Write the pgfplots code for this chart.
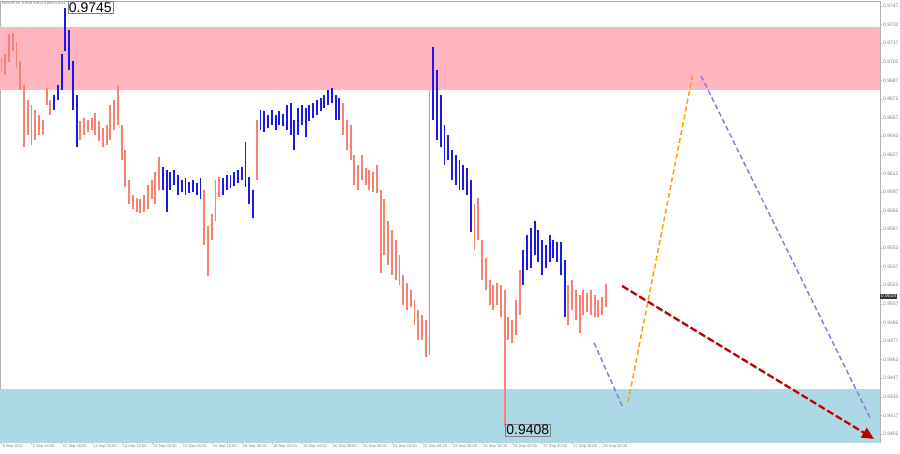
\documentclass[border=0pt]{standalone}
\usepackage{pgfplots}
\pgfplotsset{compat=1.18}
\usepackage{pgfplotstable}
\usepackage{fontspec}
\setmainfont{Liberation Sans}
\usetikzlibrary{arrows.meta}
\definecolor{salm}{RGB}{250,128,114}
\definecolor{bbar}{RGB}{25,25,235}
\definecolor{zpink}{RGB}{255,182,193}
\definecolor{zblue}{RGB}{173,216,230}
\definecolor{fpurp}{RGB}{147,112,219}
\definecolor{forange}{RGB}{255,160,0}
\definecolor{fred}{RGB}{190,0,0}

% EURCHF H1 — bars (x = hour index, lo, hi)
\pgfplotstableread{
x lo hi
0 0.9694 0.9705
2 0.9691 0.9708
4 0.9702 0.9724
6 0.9711 0.9725
8 0.9697 0.9718
10 0.9679 0.9703
12 0.9633 0.9683
14 0.9643 0.9671
16 0.9635 0.9667
18 0.9639 0.9663
20 0.9643 0.9659
22 0.9643 0.9655
24 0.9667 0.9681
26 0.9659 0.9671
}\salA
\pgfplotstableread{
x lo hi
28 0.9663 0.9675
30 0.9671 0.9683
32 0.9679 0.9708
34 0.9711 0.9745
36 0.9695 0.9728
38 0.9663 0.9703
40 0.9633 0.9675
}\bluA
\pgfplotstableread{
x lo hi
42 0.9639 0.9654
44 0.9643 0.9657
46 0.9645 0.9655
48 0.9647 0.9657
50 0.9643 0.9661
52 0.9638 0.9654
54 0.9633 0.9649
56 0.9635 0.9651
58 0.9639 0.9667
60 0.9647 0.9671
62 0.9651 0.9683
64 0.9623 0.9651
66 0.9601 0.9631
68 0.9587 0.9607
70 0.9583 0.9595
72 0.9581 0.9592
74 0.9580 0.9591
76 0.9581 0.9595
78 0.9583 0.9603
80 0.9591 0.9607
82 0.9587 0.9613
84 0.9599 0.9625
}\salB
\pgfplotstableread{
x lo hi
86 0.9599 0.9617
88 0.9581 0.9615
90 0.9599 0.9613
92 0.9603 0.9615
94 0.9595 0.9611
96 0.9597 0.9607
98 0.9595 0.9608
100 0.9596 0.9605
102 0.9597 0.9607
104 0.9595 0.9604
106 0.9591 0.9608
}\bluB
\pgfplotstableread{
x lo hi
108 0.9554 0.9599
110 0.9529 0.9570
112 0.9558 0.9579
114 0.9574 0.9607
116 0.9593 0.9609
}\salC
\pgfplotstableread{
x lo hi
118 0.9595 0.9608
120 0.9599 0.9611
122 0.9600 0.9611
124 0.9602 0.9613
126 0.9604 0.9615
128 0.9607 0.9617
130 0.9601 0.9637
132 0.9587 0.9609
134 0.9576 0.9599
}\bluC
\pgfplotstableread{
x lo hi
136 0.9607 0.9655
}\salD
\pgfplotstableread{
x lo hi
138 0.9647 0.9663
140 0.9645 0.9662
142 0.9649 0.9659
144 0.9651 0.9663
146 0.9647 0.9659
148 0.9651 0.9662
150 0.9650 0.9660
152 0.9647 0.9667
154 0.9643 0.9669
156 0.9631 0.9655
158 0.9643 0.9665
160 0.9651 0.9667
162 0.9641 0.9665
164 0.9654 0.9667
166 0.9657 0.9669
168 0.9659 0.9671
170 0.9662 0.9673
172 0.9665 0.9675
174 0.9667 0.9679
176 0.9669 0.9681
178 0.9655 0.9675
180 0.9655 0.9673
}\bluD
\pgfplotstableread{
x lo hi
182 0.9643 0.9669
184 0.9631 0.9655
186 0.9623 0.9651
188 0.9603 0.9627
190 0.9599 0.9619
192 0.9607 0.9627
194 0.9603 0.9616
196 0.9599 0.9615
198 0.9597 0.9613
200 0.9596 0.9619
202 0.9532 0.9599
204 0.9546 0.9591
206 0.9538 0.9574
208 0.9530 0.9566
210 0.9526 0.9558
212 0.9522 0.9546
214 0.9506 0.9530
216 0.9502 0.9524
218 0.9504 0.9518
220 0.9490 0.9510
222 0.9478 0.9502
224 0.9478 0.9498
226 0.9464 0.9494
228 0.9466 0.9679
}\salE
\pgfplotstableread{
x lo hi
230 0.9655 0.9714
232 0.9639 0.9695
234 0.9633 0.9675
236 0.9619 0.9651
238 0.9623 0.9643
240 0.9607 0.9631
242 0.9603 0.9627
244 0.9599 0.9623
246 0.9599 0.9619
248 0.9595 0.9616
250 0.9565 0.9607
}\bluE
\pgfplotstableread{
x lo hi
252 0.9550 0.9587
254 0.9558 0.9592
256 0.9526 0.9558
258 0.9518 0.9544
260 0.9506 0.9526
262 0.9502 0.9522
264 0.9506 0.9524
266 0.9496 0.9522
268 0.9408 0.9518
270 0.9478 0.9496
272 0.9475 0.9494
274 0.9482 0.9510
276 0.9498 0.9534
}\salF
\pgfplotstableread{
x lo hi
278 0.9522 0.9550
280 0.9534 0.9562
282 0.9536 0.9568
284 0.9546 0.9574
286 0.9541 0.9566
288 0.9530 0.9558
290 0.9536 0.9554
292 0.9541 0.9562
294 0.9544 0.9558
296 0.9541 0.9557
298 0.9530 0.9557
300 0.9496 0.9542
}\bluF
\pgfplotstableread{
x lo hi
302 0.9490 0.9522
304 0.9502 0.9526
306 0.9494 0.9518
308 0.9483 0.9514
310 0.9498 0.9518
312 0.9500 0.9516
314 0.9498 0.9518
316 0.9496 0.9514
318 0.9496 0.9510
320 0.9498 0.9512
322 0.9504 0.9523
}\salG

\pgfplotsset{hlbar/.style={draw=none, mark=none, forget plot,
  error bars/y dir=plus, error bars/y explicit, error bars/error mark=none,
  error bars/error bar style={draw=#1, line width=1.9pt, solid, line cap=butt}}}

\begin{document}
\begin{tikzpicture}
\path[use as bounding box] (0,0) rectangle (900pt,453pt);
\begin{axis}[at={(0pt,11pt)}, anchor=south west, scale only axis,
  width=880pt, height=441pt,
  xmin=-0.8, xmax=468, ymin=0.93955, ymax=0.9751,
  clip mode=individual,
  axis line style={gray!60},
  tick align=outside, major tick length=2pt, tick style={gray!60},
  ytick pos=right, yticklabel pos=right,
  xtick pos=bottom,
  scaled y ticks=false,
  ytick={0.9402,0.9417,0.9432,0.9447,0.9462,0.9477,0.9492,0.9507,0.9522,0.9537,0.9552,0.9567,0.9582,0.9597,0.9612,0.9627,0.9642,0.9657,0.9672,0.9687,0.9702,0.9717,0.9732,0.9747},
  yticklabel style={font=\fontsize{5}{6}\selectfont, text=gray, inner sep=1pt,
    /pgf/number format/.cd, fixed, fixed zerofill, precision=4, assume math mode=true},
  xtick={0,16,...,320},
  xticklabels={9 Sep 2022,9 Sep 16:00,12 Sep 08:00,13 Sep 00:00,13 Sep 16:00,14 Sep 08:00,15 Sep 00:00,15 Sep 16:00,16 Sep 08:00,19 Sep 00:00,19 Sep 16:00,20 Sep 08:00,21 Sep 00:00,21 Sep 16:00,22 Sep 08:00,23 Sep 00:00,23 Sep 16:00,26 Sep 08:00,27 Sep 00:00,27 Sep 16:00,28 Sep 08:00},
  xticklabel style={font=\fontsize{4}{5}\selectfont, text=gray, anchor=north west, inner sep=1pt},
]
% zones
\addplot[draw=none, fill=zpink, forget plot] coordinates {(-5,0.9679) (480,0.9679) (480,0.9730) (-5,0.9730)};
\addplot[draw=none, fill=zblue, forget plot] coordinates {(-5,0.9390) (480,0.9390) (480,0.9438) (-5,0.9438)};
% price bars
\addplot[hlbar=salm] table[x=x, y=lo, y error plus expr=\thisrow{hi}-\thisrow{lo}] {\salA};
\addplot[hlbar=bbar] table[x=x, y=lo, y error plus expr=\thisrow{hi}-\thisrow{lo}] {\bluA};
\addplot[hlbar=salm] table[x=x, y=lo, y error plus expr=\thisrow{hi}-\thisrow{lo}] {\salB};
\addplot[hlbar=bbar] table[x=x, y=lo, y error plus expr=\thisrow{hi}-\thisrow{lo}] {\bluB};
\addplot[hlbar=salm] table[x=x, y=lo, y error plus expr=\thisrow{hi}-\thisrow{lo}] {\salC};
\addplot[hlbar=bbar] table[x=x, y=lo, y error plus expr=\thisrow{hi}-\thisrow{lo}] {\bluC};
\addplot[hlbar=salm] table[x=x, y=lo, y error plus expr=\thisrow{hi}-\thisrow{lo}] {\salD};
\addplot[hlbar=bbar] table[x=x, y=lo, y error plus expr=\thisrow{hi}-\thisrow{lo}] {\bluD};
\addplot[hlbar=salm] table[x=x, y=lo, y error plus expr=\thisrow{hi}-\thisrow{lo}] {\salE};
\addplot[hlbar=bbar] table[x=x, y=lo, y error plus expr=\thisrow{hi}-\thisrow{lo}] {\bluE};
\addplot[hlbar=salm] table[x=x, y=lo, y error plus expr=\thisrow{hi}-\thisrow{lo}] {\salF};
\addplot[hlbar=bbar] table[x=x, y=lo, y error plus expr=\thisrow{hi}-\thisrow{lo}] {\bluF};
\addplot[hlbar=salm] table[x=x, y=lo, y error plus expr=\thisrow{hi}-\thisrow{lo}] {\salG};
% forecast
\addplot[fpurp, line width=1.4pt, dash pattern=on 5pt off 3pt, forget plot] coordinates {(315.7,0.94754) (331.1,0.9423)};
\addplot[forange, line width=1.5pt, dash pattern=on 5pt off 3pt, forget plot] coordinates {(333.8,0.94278) (368.4,0.9693)};
\addplot[fpurp, line width=1.4pt, dash pattern=on 5pt off 3pt, forget plot] coordinates {(372.7,0.96906) (462.7,0.9415)};
\addplot[black!25, line width=2.2pt, dash pattern=on 7pt off 3pt, forget plot, shift={(0.8pt,-0.8pt)}] coordinates {(330.6,0.95213) (462.5,0.9400)};
\addplot[fred, line width=2.2pt, dash pattern=on 7pt off 3pt, forget plot, -{Triangle[length=12pt,width=11pt]}] coordinates {(330.6,0.95213) (464.8,0.9398)};
% labels
\node[draw=gray, inner sep=1pt, font=\fontsize{14}{14}\selectfont, anchor=north west] at (axis cs:35.3,0.97508) {0.9745};
\node[draw=gray, inner sep=1pt, font=\fontsize{14}{14}\selectfont, anchor=west] at (axis cs:268.3,0.94052) {0.9408};
\node[anchor=north west, font=\fontsize{3.3}{4}\selectfont, text=gray!80!black, inner sep=1pt] at (rel axis cs:0,1) {\,EURCHF,H1\ \ 0.9508 0.9524 0.9501 0.9514};
\node[fill=black!80, text=white, font=\fontsize{5}{6}\selectfont, inner sep=0.7pt, anchor=west] at (axis cs:468,0.9513) {0.9514};
\end{axis}
\end{tikzpicture}
\end{document}
